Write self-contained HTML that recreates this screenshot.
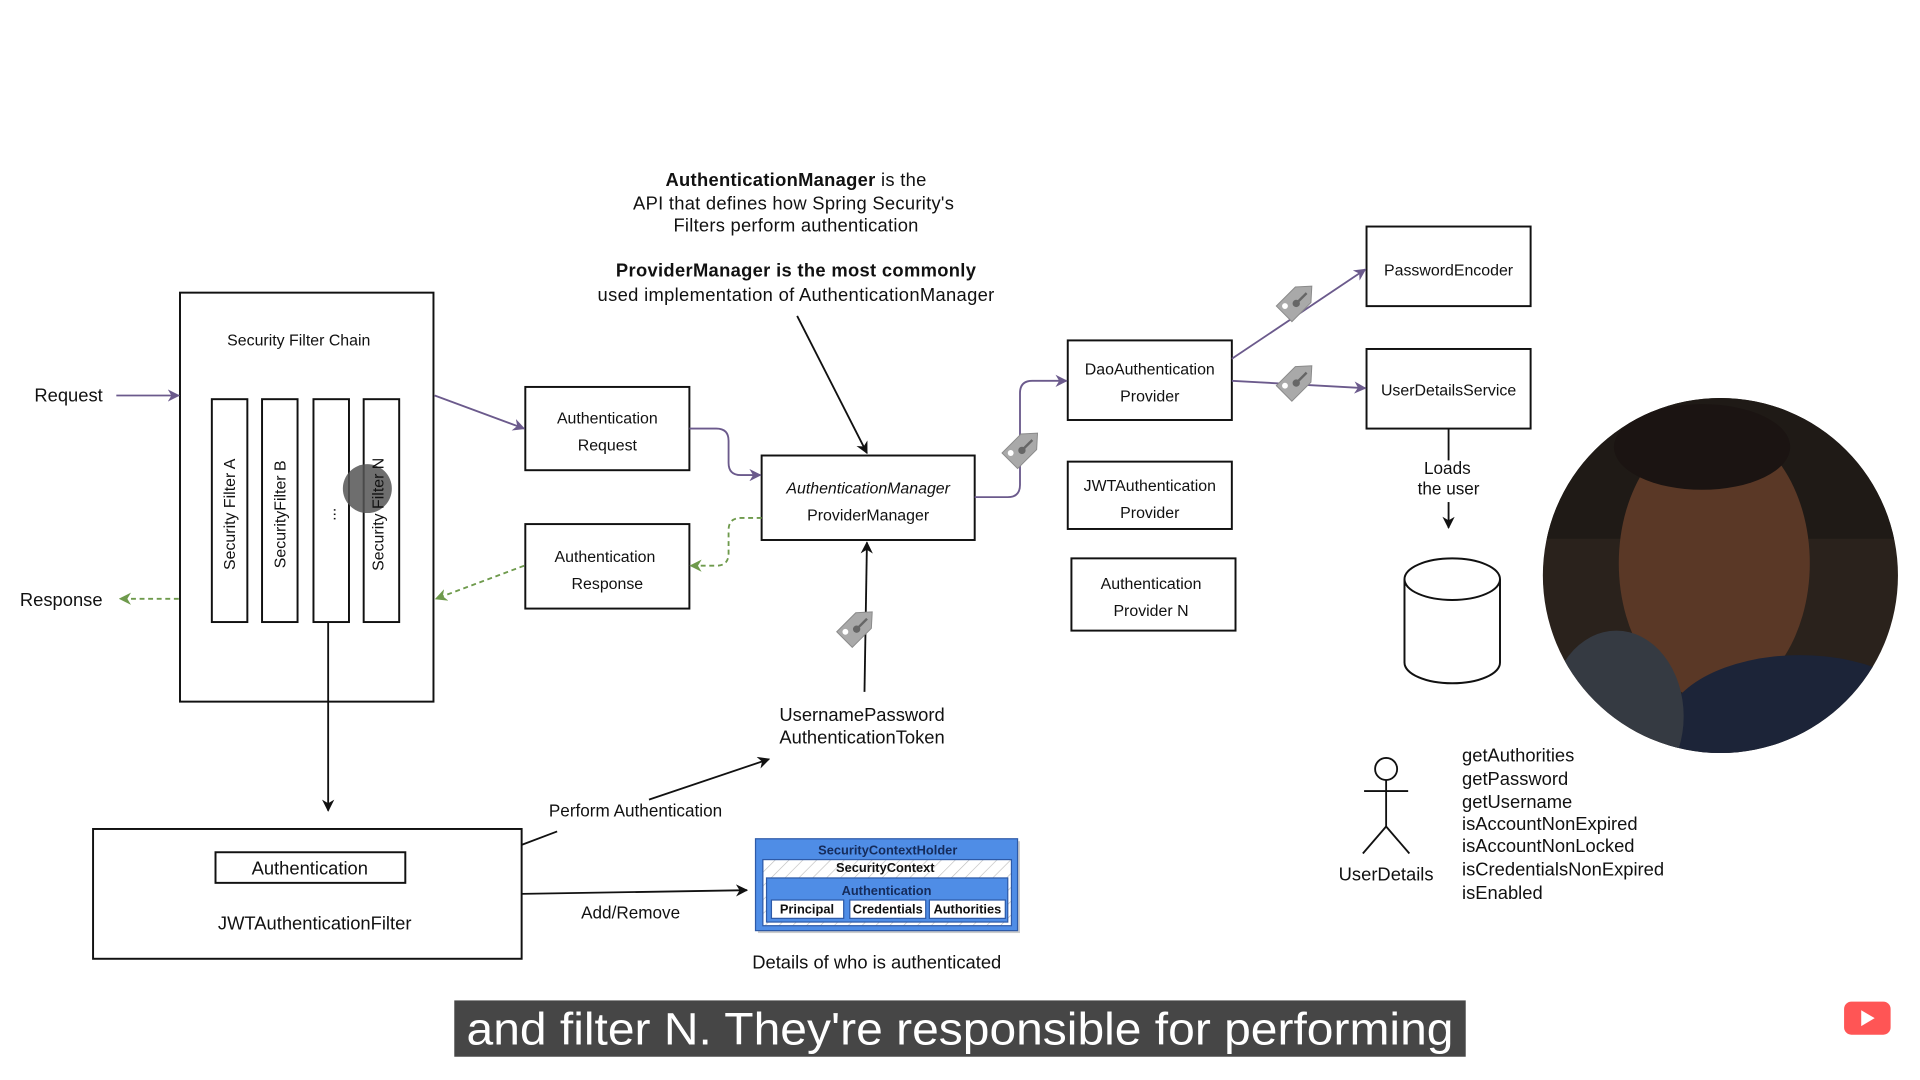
<!DOCTYPE html>
<html><head><meta charset="utf-8"><style>
html,body{margin:0;padding:0;background:#fff;width:1920px;height:1080px;overflow:hidden}
svg{display:block}
text{font-family:"Liberation Sans",sans-serif;fill:#111}
</style></head><body>
<svg width="1920" height="1080" viewBox="0 0 1568 882" xmlns="http://www.w3.org/2000/svg">
<defs>
<marker id="ap" markerWidth="10" markerHeight="10" refX="9" refY="5" orient="auto" markerUnits="userSpaceOnUse"><path d="M0,0 L10,5 L0,10 L3,5z" fill="#6b5a8c"/></marker>
<marker id="ag" markerWidth="10" markerHeight="10" refX="9" refY="5" orient="auto" markerUnits="userSpaceOnUse"><path d="M0,0 L10,5 L0,10 L3,5z" fill="#6e9a4c"/></marker>
<marker id="ak" markerWidth="10" markerHeight="10" refX="9" refY="5" orient="auto" markerUnits="userSpaceOnUse"><path d="M0,0 L10,5 L0,10 L3,5z" fill="#111"/></marker>
<pattern id="hatch" width="8" height="8" patternUnits="userSpaceOnUse" patternTransform="rotate(45)"><rect width="8" height="8" fill="#fff"/><line x1="0" y1="0" x2="0" y2="8" stroke="#bbb" stroke-width="1"/></pattern>
<g id="tag"><path d="M-9,-16 L9,-16 L9,6 L0,16 L-9,6z" fill="#a9a9a9" stroke="#8a8a8a" stroke-width="0.8"/><circle cx="4" cy="-11" r="2.4" fill="#fff"/><circle cx="-1" cy="-3" r="3" fill="#666"/><line x1="-1" y1="-1" x2="-1" y2="9" stroke="#666" stroke-width="2"/></g>
<clipPath id="cc"><circle cx="1405" cy="470" r="145"/></clipPath>
</defs>
<g fill="none" stroke="#111" stroke-width="1.6">
<rect x="147" y="239" width="207" height="334"/>
<rect x="173" y="326" width="29" height="182"/>
<rect x="214" y="326" width="29" height="182"/>
<rect x="256" y="326" width="29" height="182"/>
<rect x="297" y="326" width="29" height="182"/>
<rect x="429" y="316" width="134" height="68"/>
<rect x="429" y="428" width="134" height="69"/>
<rect x="622" y="372" width="174" height="69"/>
<rect x="872" y="278" width="134" height="65"/>
<rect x="872" y="377" width="134" height="55"/>
<rect x="875" y="456" width="134" height="59"/>
<rect x="1116" y="185" width="134" height="65"/>
<rect x="1116" y="285" width="134" height="65"/>
<rect x="76" y="677" width="350" height="106"/>
<rect x="176" y="696" width="155" height="25"/>
</g>
<circle cx="300" cy="399" r="20" fill="#555" opacity="0.85"/>
<text font-size="13" text-anchor="middle" x="244" y="282">Security Filter Chain</text>
<g font-size="13" text-anchor="middle">
<text transform="translate(192,420) rotate(-90)">Security Filter A</text>
<text transform="translate(233,420) rotate(-90)">SecurityFilter B</text>
<text transform="translate(274,420) rotate(-90)">...</text>
<text transform="translate(313,420) rotate(-90)">Security Filter N</text>
<text x="496" y="346">Authentication</text><text x="496" y="368">Request</text>
<text x="494" y="459">Authentication</text><text x="496" y="481">Response</text>
<text x="709" y="403" font-style="italic">AuthenticationManager</text><text x="709" y="425">ProviderManager</text>
<text x="939" y="306">DaoAuthentication</text><text x="939" y="328">Provider</text>
<text x="939" y="401">JWTAuthentication</text><text x="939" y="423">Provider</text>
<text x="940" y="481">Authentication</text><text x="940" y="503">Provider N</text>
<text x="1183" y="225">PasswordEncoder</text>
<text x="1183" y="323">UserDetailsService</text>
<text x="1182" y="387" font-size="14">Loads</text><text x="1183" y="404" font-size="14">the user</text>
</g>
<text x="56" y="328" font-size="15" text-anchor="middle">Request</text>
<text x="50" y="495" font-size="15" text-anchor="middle">Response</text>
<g font-size="15" text-anchor="middle">
<text x="650" y="152" textLength="213"><tspan font-weight="bold">AuthenticationManager</tspan> is the</text>
<text x="648" y="171" textLength="262">API that defines how Spring Security's</text>
<text x="650" y="189" textLength="200">Filters perform authentication</text>
<text x="650" y="226" font-weight="bold" textLength="294">ProviderManager is the most commonly</text>
<text x="650" y="246" textLength="324">used implementation of AuthenticationManager</text>
<text x="704" y="589">UsernamePassword</text><text x="704" y="607">AuthenticationToken</text>
<text x="253" y="714">Authentication</text>
<text x="257" y="759">JWTAuthenticationFilter</text>
<text x="716" y="791">Details of who is authenticated</text>
<text x="1132" y="719">UserDetails</text>
</g>
<text x="519" y="667" font-size="14" text-anchor="middle">Perform Authentication</text>
<text x="515" y="750" font-size="14" text-anchor="middle">Add/Remove</text>
<g font-size="15">
<text x="1194" y="622">getAuthorities</text><text x="1194" y="641">getPassword</text><text x="1194" y="660">getUsername</text><text x="1194" y="678">isAccountNonExpired</text><text x="1194" y="696">isAccountNonLocked</text><text x="1194" y="715">isCredentialsNonExpired</text><text x="1194" y="734">isEnabled</text>
</g>
<g fill="none" stroke-width="1.5">
<line x1="95" y1="323" x2="146" y2="323" stroke="#6b5a8c" marker-end="url(#ap)"/>
<line x1="146" y1="489" x2="98" y2="489" stroke="#6e9a4c" stroke-dasharray="4,3" marker-end="url(#ag)"/>
<line x1="355" y1="323" x2="428" y2="350" stroke="#6b5a8c" marker-end="url(#ap)"/>
<line x1="428" y1="462" x2="356" y2="489" stroke="#6e9a4c" stroke-dasharray="4,3" marker-end="url(#ag)"/>
<path d="M563,350 L585,350 Q595,350 595,360 L595,378 Q595,388 605,388 L621,388" stroke="#6b5a8c" marker-end="url(#ap)"/>
<path d="M622,423 L605,423 Q595,423 595,433 L595,452 Q595,462 585,462 L564,462" stroke="#6e9a4c" stroke-dasharray="4,3" marker-end="url(#ag)"/>
<path d="M796,406 L823,406 Q833,406 833,396 L833,321 Q833,311 843,311 L871,311" stroke="#6b5a8c" marker-end="url(#ap)"/>
<line x1="1006" y1="293" x2="1115" y2="220" stroke="#6b5a8c" marker-end="url(#ap)"/>
<line x1="1006" y1="311" x2="1115" y2="317" stroke="#6b5a8c" marker-end="url(#ap)"/>
<line x1="1183" y1="350" x2="1183" y2="376" stroke="#111"/>
<line x1="1183" y1="410" x2="1183" y2="431" stroke="#111" marker-end="url(#ak)"/>
<line x1="651" y1="258" x2="708" y2="370" stroke="#111" marker-end="url(#ak)"/>
<line x1="706" y1="565" x2="708" y2="443" stroke="#111" marker-end="url(#ak)"/>
<line x1="268" y1="508" x2="268" y2="662" stroke="#111" marker-end="url(#ak)"/>
<line x1="426" y1="690" x2="455" y2="679" stroke="#111"/>
<line x1="530" y1="653" x2="628" y2="620" stroke="#111" marker-end="url(#ak)"/>
<line x1="426" y1="730" x2="610" y2="727" stroke="#111" marker-end="url(#ak)"/>
</g>
<use href="#tag" transform="translate(836,365) rotate(225)"/>
<use href="#tag" transform="translate(701,511) rotate(225)"/>
<use href="#tag" transform="translate(1060,245) rotate(225)"/>
<use href="#tag" transform="translate(1060,310) rotate(225)"/>
<g fill="#fff" stroke="#111" stroke-width="1.6">
<path d="M1147,473 L1147,541 A39,17 0 0 0 1225,541 L1225,473"/>
<ellipse cx="1186" cy="473" rx="39" ry="17"/>
</g>
<g fill="none" stroke="#111" stroke-width="1.5">
<circle cx="1132" cy="628" r="9"/>
<line x1="1132" y1="637" x2="1132" y2="675"/>
<line x1="1114" y1="646" x2="1150" y2="646"/>
<line x1="1132" y1="675" x2="1113" y2="697"/>
<line x1="1132" y1="675" x2="1151" y2="697"/>
</g>
<rect x="619" y="687" width="214" height="75" fill="#999" opacity="0.5"/>
<rect x="617" y="685" width="214" height="75" fill="#4f8de6" stroke="#2d5aa8"/>
<rect x="623" y="702" width="203" height="54" fill="url(#hatch)" stroke="#2d5aa8"/>
<rect x="626" y="717" width="197" height="36" fill="#4f8de6" stroke="#2d5aa8"/>
<rect x="630" y="735" width="59" height="15" fill="#fff" stroke="#2d5aa8"/>
<rect x="694" y="735" width="62" height="15" fill="#fff" stroke="#2d5aa8"/>
<rect x="759" y="735" width="62" height="15" fill="#fff" stroke="#2d5aa8"/>
<g font-size="10.5" font-weight="bold" text-anchor="middle">
<text x="725" y="698" style="fill:#152b5a">SecurityContextHolder</text>
<text x="723" y="712">SecurityContext</text>
<text x="724" y="731" style="fill:#152b5a">Authentication</text>
<text x="659" y="746">Principal</text><text x="725" y="746">Credentials</text><text x="790" y="746">Authorities</text>
</g>
<g clip-path="url(#cc)">
<rect x="1255" y="320" width="300" height="300" fill="#2a221c"/>
<rect x="1255" y="320" width="300" height="120" fill="#1f1a16"/>
<ellipse cx="1400" cy="460" rx="78" ry="112" fill="#5a3826"/>
<ellipse cx="1390" cy="365" rx="72" ry="35" fill="#1b1412"/>
<ellipse cx="1470" cy="595" rx="110" ry="60" fill="#1c2438"/>
<ellipse cx="1320" cy="585" rx="55" ry="70" fill="#353a42"/>
</g>
<rect x="371" y="817" width="826" height="46" fill="#464646"/>
<text x="784" y="853" font-size="37" text-anchor="middle" textLength="806" lengthAdjust="spacingAndGlyphs" style="fill:#fff">and filter N. They're responsible for performing</text>
<rect x="1506" y="818" width="38" height="27" rx="6" fill="#f55"/>
<path d="M1520,825 L1531,831.5 L1520,838z" fill="#fff"/>
</svg>
</body></html>
